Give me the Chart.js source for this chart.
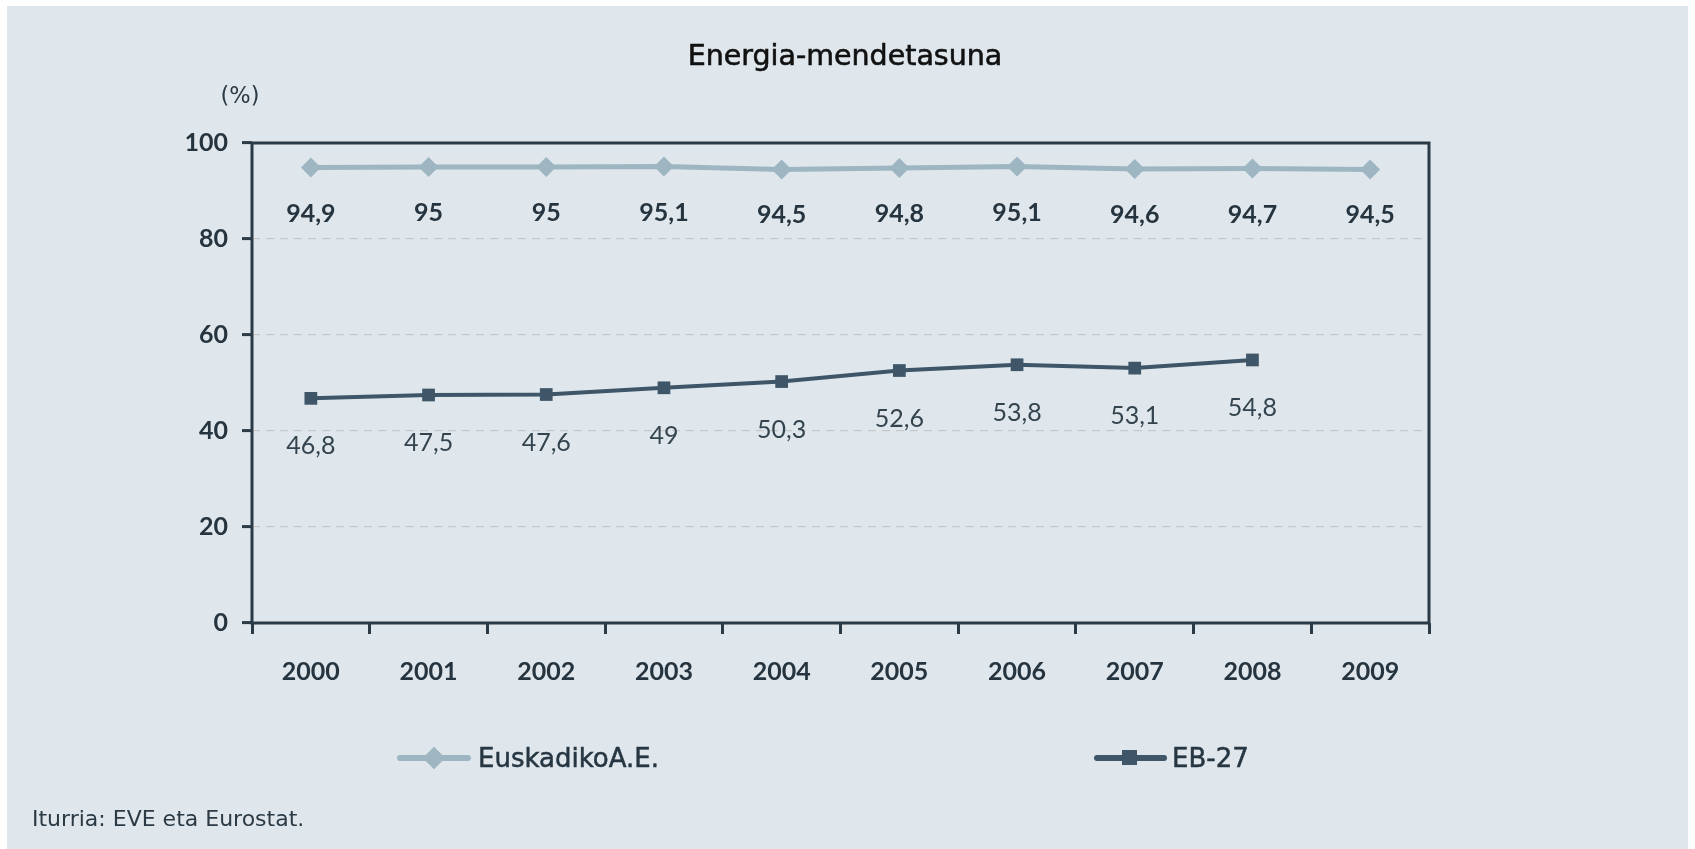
<!DOCTYPE html>
<html>
<head>
<meta charset="utf-8">
<script src="https://cdn.jsdelivr.net/npm/chart.js@4"></script>
<style>
  html, body { margin: 0; padding: 0; background: #fff; }
  #panel { position: absolute; left: 7px; top: 6px; width: 1681px; height: 843px; background: #dfe7ec; }
  #chart { position: absolute; left: 0; top: 0; }
  .txt { position: absolute; white-space: nowrap; font-family: "DejaVu Sans", sans-serif; color: #1f2b33; }
  #title { left: 838px; top: 49px; transform: translate(-50%, -50%); font-size: 28.5px; color: #111; -webkit-text-stroke: 0.6px #111; }
  #unit { left: 233px; top: 89px; transform: translate(-50%, -50%); font-size: 22.5px; color: #2b3a45; }
  #source { left: 25px; top: 812px; transform: translateY(-50%); font-size: 22px; color: #2b3a45; }
  .leg { position: absolute; top: 752px; height: 0; }
  .leg .line { position: absolute; top: -3px; height: 6px; border-radius: 3px; }
  .leg .mark { position: absolute; }
  .leg .lab { position: absolute; top: 0; transform: translateY(-50%); font-family: "DejaVu Sans", sans-serif; font-size: 26px; color: #263642; -webkit-text-stroke: 0.5px #263642; white-space: nowrap; }
</style>
</head>
<body>
<div id="panel">
  <canvas id="chart" width="1681" height="843"></canvas>
  <div class="txt" id="title">Energia-mendetasuna</div>
  <div class="txt" id="unit">(%)</div>
  <div class="leg" style="left:390px">
    <div class="line" style="left:0;width:74px;background:#9db6c1"></div>
    <div class="mark" style="left:29px;top:-8px;width:16px;height:16px;background:#9db6c1;transform:rotate(45deg)"></div>
    <div class="lab" style="left:81px">EuskadikoA.E.</div>
  </div>
  <div class="leg" style="left:1087px">
    <div class="line" style="left:0;width:73px;background:#3e5668"></div>
    <div class="mark" style="left:28px;top:-8px;width:15px;height:15px;background:#3e5668"></div>
    <div class="lab" style="left:78px">EB-27</div>
  </div>
  <div class="txt" id="source">Iturria: EVE eta Eurostat.</div>
</div>
<script>
/* ── Energia-mendetasuna ── */

const years = ['2000', '2001', '2002', '2003', '2004', '2005', '2006', '2007', '2008', '2009'];
const euskadi = [94.9, 95, 95, 95.1, 94.5, 94.8, 95.1, 94.6, 94.7, 94.5];
const eb27 = [46.8, 47.5, 47.6, 49, 50.3, 52.6, 53.8, 53.1, 54.8, null];
const yTicks = [0, 20, 40, 60, 80, 100];

const AXIS = '#2a3a46';
const fmt = v => String(v).replace('.', ',');

// etiketak puntuen azpian
const valueLabels = {
    id: 'valueLabels',
    afterDatasetsDraw(chart) {
        const ctx = chart.ctx;
        ctx.save();
        ctx.textAlign = 'center';
        ctx.textBaseline = 'middle';
        chart.data.datasets.forEach((ds, i) => {
            const meta = chart.getDatasetMeta(i);
            ctx.font = ds._labelFont;
            ctx.fillStyle = ds._labelColor;
            meta.data.forEach((p, j) => {
                const v = ds.data[j];
                if (v == null) return;
                ctx.fillText(fmt(v), p.x, p.y + ds._labelOffset);
            });
        });
        ctx.restore();
    },
};

// grafikoaren markoa
const frame = {
    id: 'frame',
    beforeDatasetsDraw(chart) {
        const { ctx, chartArea: a } = chart;
        ctx.save();
        ctx.strokeStyle = AXIS;
        ctx.lineWidth = 3;
        ctx.beginPath();
        ctx.moveTo(a.left, a.bottom);
        ctx.lineTo(a.left, a.top);
        ctx.lineTo(a.right, a.top);
        ctx.lineTo(a.right, a.bottom);
        ctx.lineTo(a.left, a.bottom);
        ctx.closePath();
        ctx.stroke();
        ctx.restore();
    },
};

new Chart(document.getElementById('chart').getContext('2d'), {
    type: 'line',
    data: {
        labels: years,
        datasets: [{
            label: 'EuskadikoA.E.',
            data: euskadi,
            borderColor: '#9db6c1',
            backgroundColor: '#9db6c1',
            borderWidth: 5,
            pointStyle: 'rectRot',
            pointRadius: 10,
            pointBorderWidth: 0,
            _labelFont: 'bold 25px Lato',
            _labelColor: '#26343f',
            _labelOffset: 46,
        }, {
            label: 'EB-27',
            data: eb27,
            borderColor: '#3e5668',
            backgroundColor: '#3e5668',
            borderWidth: 4,
            pointStyle: 'rect',
            pointRadius: 9,
            pointBorderWidth: 0,
            _labelFont: '25px Lato',
            _labelColor: '#34444f',
            _labelOffset: 48,
        }],
    },
    options: {
        responsive: false,
        animation: false,
        layout: { padding: { left: 0, right: 259, top: 137, bottom: 146 } },
        plugins: {
            legend: { display: false },
            tooltip: { enabled: false },
        },
        scales: {
            x: {
                offset: true,
                grid: { offset: true, drawOnChartArea: false, drawTicks: true, tickLength: 11, tickColor: AXIS, tickWidth: 3 },
                border: { display: false },
                ticks: { color: '#26343f', font: { family: 'Lato', size: 25, weight: 'bold' }, padding: 23, maxRotation: 0 },
                afterFit: s => { s.height = 80; },
            },
            y: {
                min: 0,
                max: 100,
                afterBuildTicks: s => { s.ticks = yTicks.map(v => ({ value: v })); },
                grid: {
                    color: c => (c.tick && (c.tick.value === 0 || c.tick.value === 100)) ? 'rgba(0,0,0,0)' : '#c3c9cc',
                    lineWidth: 1.2,
                    tickLength: 10,
                    tickColor: AXIS,
                    tickWidth: 3,
                },
                border: { display: false, dash: [8, 6] },
                ticks: { color: '#26343f', font: { family: 'Lato', size: 25, weight: 'bold' }, padding: 14 },
                afterFit: s => { s.width = 245; },
            },
        },
    },
    plugins: [frame, valueLabels],
});
</script>
</body>
</html>
